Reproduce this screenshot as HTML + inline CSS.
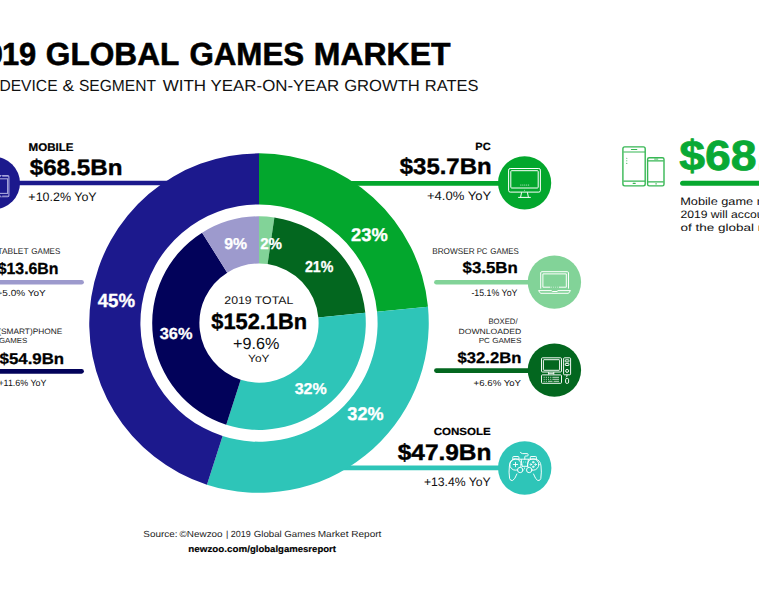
<!DOCTYPE html>
<html><head><meta charset="utf-8"><style>
html,body{margin:0;padding:0;background:#fff;}
body{width:759px;height:600px;overflow:hidden;position:relative;}
svg{position:absolute;left:0;top:0;}
text{font-family:"Liberation Sans",sans-serif;text-rendering:geometricPrecision;}
</style></head><body>
<svg width="759" height="600" viewBox="0 0 759 600">
<g id="lines">
<line x1="10" y1="182.95" x2="260" y2="182.95" stroke="#1c198d" stroke-width="4.6"/>
<line x1="260" y1="183.35" x2="520" y2="183.35" stroke="#03a72d" stroke-width="4.6"/>
<line x1="260" y1="467.95" x2="520" y2="467.95" stroke="#2ec5b8" stroke-width="4.7"/>
<line x1="-10" y1="282.25" x2="81.6" y2="282.25" stroke="#9d9acd" stroke-width="4.6" stroke-linecap="round"/>
<line x1="-10" y1="371.35" x2="81.6" y2="371.35" stroke="#02025a" stroke-width="4.6" stroke-linecap="round"/>
<line x1="436.4" y1="282.25" x2="550" y2="282.25" stroke="#82d398" stroke-width="4.6" stroke-linecap="round"/>
<line x1="436.4" y1="370.6" x2="550" y2="370.6" stroke="#03671f" stroke-width="4.6" stroke-linecap="round"/>
<line x1="682.6" y1="183.3" x2="770" y2="183.3" stroke="#07a82f" stroke-width="5" stroke-linecap="round"/>
</g>
<g id="donut">
<path d="M259.00,153.35A169.75,169.75 0 0 1 427.97,306.82L377.05,311.73A118.6,118.6 0 0 0 259.00,204.50Z" fill="#03a72d"/><path d="M427.97,306.82A169.75,169.75 0 0 1 206.91,484.66L222.61,435.98A118.6,118.6 0 0 0 377.05,311.73Z" fill="#2ec5b8"/><path d="M206.91,484.66A169.75,169.75 0 0 1 259.00,153.35L259.00,204.50A118.6,118.6 0 0 0 222.61,435.98Z" fill="#1c198d"/><path d="M259.00,216.30A106.8,106.8 0 0 1 274.39,217.41L267.59,264.12A59.6,59.6 0 0 0 259.00,263.50Z" fill="#82d398"/><path d="M274.39,217.41A106.8,106.8 0 0 1 365.31,312.86L318.33,317.38A59.6,59.6 0 0 0 267.59,264.12Z" fill="#03671f"/><path d="M365.31,312.86A106.8,106.8 0 0 1 226.23,424.75L240.71,379.82A59.6,59.6 0 0 0 318.33,317.38Z" fill="#2ec5b8"/><path d="M226.23,424.75A106.8,106.8 0 0 1 202.11,232.72L227.25,272.66A59.6,59.6 0 0 0 240.71,379.82Z" fill="#02025a"/><path d="M202.11,232.72A106.8,106.8 0 0 1 259.00,216.30L259.00,263.50A59.6,59.6 0 0 0 227.25,272.66Z" fill="#9d9acd"/>
</g>
<g id="circles">
<circle cx="-6.3" cy="183" r="26.3" fill="#1c198d"/>
<circle cx="524.6" cy="182.9" r="26.6" fill="#03a72d"/>
<circle cx="554.4" cy="282.1" r="26.7" fill="#82d398"/>
<circle cx="554.4" cy="370.1" r="26.7" fill="#03671f"/>
<circle cx="524.7" cy="468" r="26.7" fill="#2ec5b8"/>
</g>
<g id="ic_mobile" fill="none" stroke="#a9a7dc" stroke-width="1.1">
<rect x="-22" y="175.6" width="30.9" height="21.2" rx="1.2"/>
<rect x="-20" y="178.8" width="27.6" height="14.6"/>
<line x1="-22" y1="176.4" x2="8.9" y2="176.4" stroke-width="0.6"/>
<line x1="-22" y1="195.9" x2="8.9" y2="195.9" stroke-width="0.6"/>
<path d="M1,176.3h1.2M1,195.8h1.2" stroke="#1c198d" stroke-width="1.6"/>
</g>
<g id="ic_pc" fill="none" stroke="#fff" stroke-width="1" stroke-linejoin="round">
<rect x="508.6" y="168.5" width="31.8" height="23.6" rx="1.6"/>
<rect x="510.8" y="170.7" width="27.4" height="17.3" rx="0.8"/>
<path d="M521.6,192.3L520.6,197.3M527.4,192.3L528.4,197.3M518.2,197.4H530.8"/>
<g fill="#fff" stroke="none"><circle cx="520.9" cy="185.1" r="0.5"/><circle cx="522.85" cy="185.1" r="0.5"/><circle cx="524.8" cy="185.1" r="0.5"/><circle cx="526.75" cy="185.1" r="0.5"/><circle cx="528.7" cy="185.1" r="0.5"/></g>
<circle cx="524.4" cy="190.3" r="0.45" fill="#fff" stroke="none"/>
</g>
<g id="ic_laptop" fill="none" stroke="#fff" stroke-width="1" stroke-linejoin="round">
<path d="M540.7,288.6V272.9Q540.7,271.7 541.9,271.7H567.3Q568.5,271.7 568.5,272.9V288.6"/>
<path d="M550.3,287.2H542.9V273.9H566.3V287.2H558.9"/>
<path d="M551.3,287.2h0.6M553.3,287.2h0.6M555.3,287.2h0.6M557.3,287.2h0.6" stroke-width="0.9"/>
<path d="M538.5,290.6H551.3L552.3,291.5H557L558,290.6H570.5L568.5,293.3H540.5Z"/>
</g>
<g id="ic_desktop" fill="none" stroke="#fff" stroke-width="0.95" stroke-linejoin="round">
<rect x="541.5" y="357.8" width="20" height="14.2" rx="1"/>
<rect x="543.4" y="359.7" width="16.2" height="10.6" rx="0.6"/>
<path d="M548.6,372.1V374.5M553.8,372.1V374.5M548.6,373.3H553.8"/>
<rect x="541.5" y="374.9" width="20" height="8.4" rx="0.8"/>
<path d="M543.6,377.3h1.1M545.8,377.3h1.1M548,377.3h1.1M550.2,377.3h1.1M552.4,377.3h6.6M543.6,379.3h1.1M545.8,379.3h1.1M548,379.3h1.1M550.2,379.3h1.1M552.4,379.3h6.6M543.6,381.3h1.1M545.8,381.3h1.1M548,381.3h4.5M553.6,381.3h5.4" stroke-width="0.75"/>
<rect x="563.6" y="357.8" width="7" height="17" rx="0.9"/>
<rect x="565.3" y="359.8" width="3.6" height="2.1" rx="0.4"/>
<rect x="565.3" y="363.4" width="3.6" height="2.1" rx="0.4"/>
<circle cx="567.1" cy="370.9" r="1.5"/>
<path d="M567.1,374.8Q567.1,376.6 566.1,377.2"/>
<rect x="565.6" y="378.4" width="3" height="5" rx="1.3"/>
</g>
<g id="ic_console" fill="none" stroke="#fff" stroke-width="0.95" stroke-linejoin="round" stroke-linecap="round">
<path d="M520.4,452.3Q521,453.6 522.6,453.6H527.2Q528.2,453.6 528.2,454.8V455.1Q528.2,456 527.2,456H525.6Q524.8,456 524.8,456.8V459.2"/>
<path d="M512.8,459.1V457.2Q512.8,456.5 513.5,456.5H518.2Q518.9,456.5 518.9,457.2V459.1"/>
<path d="M530.3,459.1V457.2Q530.3,456.5 531,456.5H535.7Q536.4,456.5 536.4,457.2V459.1"/>
<path d="M514,459.2H536Q540.6,460.5 541,466Q541.8,472 540.8,478.5Q540,481 537.8,480.5Q535.7,479.8 533.5,474"/>
<path d="M514.4,459.2Q509.9,460.5 509.4,466Q508.6,472 509.6,478.5Q510.4,481 512.6,480.5Q514.7,479.8 516.9,474"/>
<circle cx="515.5" cy="464.5" r="5.7"/>
<circle cx="533.2" cy="464.5" r="5.7"/>
<path d="M521.2,459.5L522.2,466.3M528.4,459.5L527.4,466.3M522.3,466.3H527.4"/>
<path d="M513.3,464.5H517.7M515.5,462.3V466.7" stroke-width="0.9"/>
<path d="M523.4,462h0.01M525.4,462h0.01M524.5,467.8V468.8" stroke-width="0.7"/>
<circle cx="533.2" cy="462.2" r="0.75"/>
<circle cx="533.2" cy="466.8" r="0.75"/>
<circle cx="530.9" cy="464.5" r="0.75"/>
<circle cx="535.5" cy="464.5" r="0.75"/>
<circle cx="520.2" cy="470" r="2.7" fill="#2ec5b8"/>
<circle cx="529.2" cy="470" r="2.7" fill="#2ec5b8"/>
</g>
<g id="ic_phones" fill="none" stroke="#37b754" stroke-width="1.4" stroke-linejoin="round">
<rect x="622.9" y="146.9" width="22.3" height="39" rx="1.8"/>
<path d="M631.4,149.5H636.8" stroke-width="1.1" stroke-linecap="round"/>
<path d="M623.4,152H645M623.4,181.1H645" stroke-width="1.1"/>
<path d="M633.2,183.4H635.2" stroke-width="1.1" stroke-linecap="round"/>
<circle cx="626.8" cy="158.3" r="0.55" fill="#37b754" stroke="none"/>
<circle cx="626.8" cy="160.8" r="0.55" fill="#37b754" stroke="none"/>
<circle cx="626.8" cy="163.4" r="0.55" fill="#37b754" stroke="none"/>
<rect x="647.6" y="157.7" width="16.4" height="28.2" rx="1.6"/>
<path d="M648,160.9H663.6M648,181.9H663.6" stroke-width="1.1"/>
<path d="M654.2,159.1H658.2" stroke-width="0.9"/>
<path d="M655.3,183.9H656.9" stroke-width="1"/>
</g>

<g id="texts">
<text x="-39.67" y="64.80" font-size="31.83" font-weight="bold" fill="#000" stroke="#000" stroke-width="0.57" stroke-linejoin="round" textLength="42.86" lengthAdjust="spacingAndGlyphs">20</text>
<text x="1.88" y="64.80" font-size="31.83" font-weight="bold" fill="#000" stroke="#000" stroke-width="0.57" stroke-linejoin="round" textLength="34.36" lengthAdjust="spacingAndGlyphs">19</text>
<text x="45.80" y="64.90" font-size="31.98" font-weight="bold" fill="#000" stroke="#000" stroke-width="0.58" stroke-linejoin="round" textLength="133.54" lengthAdjust="spacingAndGlyphs">GLOBAL</text>
<text x="189.40" y="64.90" font-size="31.98" font-weight="bold" fill="#000" stroke="#000" stroke-width="0.58" stroke-linejoin="round" textLength="114.77" lengthAdjust="spacingAndGlyphs">GAMES</text>
<text x="313.82" y="64.90" font-size="31.98" font-weight="bold" fill="#000" stroke="#000" stroke-width="0.58" stroke-linejoin="round" textLength="136.74" lengthAdjust="spacingAndGlyphs">MARKET</text>
<text x="-0.57" y="91.00" font-size="15.99" font-weight="normal" fill="#111" textLength="58.10" lengthAdjust="spacingAndGlyphs">DEVICE</text>
<text x="62.52" y="91.00" font-size="15.99" font-weight="normal" fill="#111" textLength="11.68" lengthAdjust="spacingAndGlyphs">&amp;</text>
<text x="78.95" y="91.00" font-size="15.99" font-weight="normal" fill="#111" textLength="77.05" lengthAdjust="spacingAndGlyphs">SEGMENT</text>
<text x="162.70" y="91.00" font-size="15.99" font-weight="normal" fill="#111" textLength="43.42" lengthAdjust="spacingAndGlyphs">WITH</text>
<text x="210.51" y="91.00" font-size="15.99" font-weight="normal" fill="#111" textLength="128.62" lengthAdjust="spacingAndGlyphs">YEAR-ON-YEAR</text>
<text x="344.19" y="91.00" font-size="15.99" font-weight="normal" fill="#111" textLength="75.65" lengthAdjust="spacingAndGlyphs">GROWTH</text>
<text x="424.79" y="91.00" font-size="15.99" font-weight="normal" fill="#111" textLength="53.69" lengthAdjust="spacingAndGlyphs">RATES</text>
<text x="28.63" y="150.70" font-size="11.19" font-weight="bold" fill="#000" stroke="#000" stroke-width="0.20" stroke-linejoin="round" textLength="44.94" lengthAdjust="spacingAndGlyphs">MOBILE</text>
<text x="29.73" y="174.80" font-size="22.09" font-weight="bold" fill="#000" stroke="#000" stroke-width="0.40" stroke-linejoin="round" textLength="92.70" lengthAdjust="spacingAndGlyphs">$68.5Bn</text>
<text x="28.37" y="200.80" font-size="12.21" font-weight="normal" fill="#111" textLength="68.32" lengthAdjust="spacingAndGlyphs">+10.2% YoY</text>
<text x="-2.52" y="253.80" font-size="8.43" font-weight="normal" fill="#222" textLength="31.04" lengthAdjust="spacingAndGlyphs">TABLET</text>
<text x="31.36" y="253.80" font-size="8.43" font-weight="normal" fill="#222" textLength="28.94" lengthAdjust="spacingAndGlyphs">GAMES</text>
<text x="-2.29" y="274.20" font-size="16.13" font-weight="bold" fill="#000" stroke="#000" stroke-width="0.29" stroke-linejoin="round" textLength="60.77" lengthAdjust="spacingAndGlyphs">$13.6Bn</text>
<text x="-3.47" y="296.40" font-size="8.87" font-weight="normal" fill="#111" textLength="49.19" lengthAdjust="spacingAndGlyphs">+5.0% YoY</text>
<text x="-1.81" y="333.60" font-size="7.85" font-weight="normal" fill="#222" textLength="64.07" lengthAdjust="spacingAndGlyphs">(SMART)PHONE</text>
<text x="-1.13" y="342.60" font-size="7.41" font-weight="normal" fill="#222" textLength="28.36" lengthAdjust="spacingAndGlyphs">GAMES</text>
<text x="-0.44" y="363.50" font-size="15.55" font-weight="bold" fill="#000" stroke="#000" stroke-width="0.28" stroke-linejoin="round" textLength="64.54" lengthAdjust="spacingAndGlyphs">$54.9Bn</text>
<text x="-1.59" y="385.50" font-size="9.01" font-weight="normal" fill="#111" textLength="48.01" lengthAdjust="spacingAndGlyphs">+11.6% YoY</text>
<text x="475.35" y="150.30" font-size="10.47" font-weight="bold" fill="#000" stroke="#000" stroke-width="0.19" stroke-linejoin="round" textLength="15.34" lengthAdjust="spacingAndGlyphs">PC</text>
<text x="399.79" y="173.90" font-size="22.67" font-weight="bold" fill="#000" stroke="#000" stroke-width="0.41" stroke-linejoin="round" textLength="91.78" lengthAdjust="spacingAndGlyphs">$35.7Bn</text>
<text x="426.92" y="199.60" font-size="12.35" font-weight="normal" fill="#111" textLength="64.27" lengthAdjust="spacingAndGlyphs">+4.0% YoY</text>
<text x="432.21" y="253.90" font-size="8.43" font-weight="normal" fill="#222" textLength="42.37" lengthAdjust="spacingAndGlyphs">BROWSER</text>
<text x="476.63" y="253.90" font-size="8.43" font-weight="normal" fill="#222" textLength="10.73" lengthAdjust="spacingAndGlyphs">PC</text>
<text x="490.26" y="253.90" font-size="8.43" font-weight="normal" fill="#222" textLength="28.47" lengthAdjust="spacingAndGlyphs">GAMES</text>
<text x="462.58" y="273.40" font-size="15.84" font-weight="bold" fill="#000" stroke="#000" stroke-width="0.29" stroke-linejoin="round" textLength="55.08" lengthAdjust="spacingAndGlyphs">$3.5Bn</text>
<text x="471.40" y="295.80" font-size="9.59" font-weight="normal" fill="#111" textLength="46.04" lengthAdjust="spacingAndGlyphs">-15.1% YoY</text>
<text x="488.43" y="324.00" font-size="7.85" font-weight="normal" fill="#222" textLength="29.11" lengthAdjust="spacingAndGlyphs">BOXED/</text>
<text x="458.48" y="333.80" font-size="7.56" font-weight="normal" fill="#222" textLength="62.89" lengthAdjust="spacingAndGlyphs">DOWNLOADED</text>
<text x="478.71" y="342.60" font-size="7.41" font-weight="normal" fill="#222" textLength="42.62" lengthAdjust="spacingAndGlyphs">PC GAMES</text>
<text x="457.64" y="363.20" font-size="15.41" font-weight="bold" fill="#000" stroke="#000" stroke-width="0.28" stroke-linejoin="round" textLength="63.75" lengthAdjust="spacingAndGlyphs">$32.2Bn</text>
<text x="473.63" y="385.80" font-size="8.72" font-weight="normal" fill="#111" textLength="47.42" lengthAdjust="spacingAndGlyphs">+6.6% YoY</text>
<text x="433.66" y="435.00" font-size="10.32" font-weight="bold" fill="#000" stroke="#000" stroke-width="0.19" stroke-linejoin="round" textLength="57.06" lengthAdjust="spacingAndGlyphs">CONSOLE</text>
<text x="397.74" y="459.60" font-size="22.67" font-weight="bold" fill="#000" stroke="#000" stroke-width="0.41" stroke-linejoin="round" textLength="93.71" lengthAdjust="spacingAndGlyphs">$47.9Bn</text>
<text x="423.89" y="485.60" font-size="12.21" font-weight="normal" fill="#111" textLength="66.84" lengthAdjust="spacingAndGlyphs">+13.4% YoY</text>
<text x="224.34" y="304.20" font-size="11.05" font-weight="normal" fill="#111" textLength="68.96" lengthAdjust="spacingAndGlyphs">2019 TOTAL</text>
<text x="211.29" y="328.60" font-size="22.09" font-weight="bold" fill="#000" stroke="#000" stroke-width="0.40" stroke-linejoin="round" textLength="95.81" lengthAdjust="spacingAndGlyphs">$152.1Bn</text>
<text x="233.13" y="348.60" font-size="16.13" font-weight="normal" fill="#111" textLength="46.38" lengthAdjust="spacingAndGlyphs">+9.6%</text>
<text x="248.13" y="361.70" font-size="10.61" font-weight="normal" fill="#111" textLength="21.38" lengthAdjust="spacingAndGlyphs">YoY</text>
<text x="97.69" y="307.00" font-size="19.04" font-weight="bold" fill="#fff" stroke="#fff" stroke-width="0.34" stroke-linejoin="round" textLength="37.34" lengthAdjust="spacingAndGlyphs">45%</text>
<text x="351.03" y="241.00" font-size="18.46" font-weight="bold" fill="#fff" stroke="#fff" stroke-width="0.33" stroke-linejoin="round" textLength="36.67" lengthAdjust="spacingAndGlyphs">23%</text>
<text x="347.35" y="419.50" font-size="18.31" font-weight="bold" fill="#fff" stroke="#fff" stroke-width="0.33" stroke-linejoin="round" textLength="36.18" lengthAdjust="spacingAndGlyphs">32%</text>
<text x="159.78" y="339.10" font-size="15.99" font-weight="bold" fill="#fff" stroke="#fff" stroke-width="0.29" stroke-linejoin="round" textLength="32.69" lengthAdjust="spacingAndGlyphs">36%</text>
<text x="294.68" y="393.90" font-size="15.70" font-weight="bold" fill="#fff" stroke="#fff" stroke-width="0.28" stroke-linejoin="round" textLength="32.04" lengthAdjust="spacingAndGlyphs">32%</text>
<text x="224.32" y="249.10" font-size="15.70" font-weight="bold" fill="#fff" stroke="#fff" stroke-width="0.28" stroke-linejoin="round" textLength="22.88" lengthAdjust="spacingAndGlyphs">9%</text>
<text x="260.20" y="249.10" font-size="15.70" font-weight="bold" fill="#fff" stroke="#fff" stroke-width="0.28" stroke-linejoin="round" textLength="21.84" lengthAdjust="spacingAndGlyphs">2%</text>
<text x="304.93" y="271.60" font-size="15.84" font-weight="bold" fill="#fff" stroke="#fff" stroke-width="0.29" stroke-linejoin="round" textLength="28.44" lengthAdjust="spacingAndGlyphs">21%</text>
<text x="679.18" y="169.50" font-size="42.15" font-weight="bold" fill="#09a935" stroke="#09a935" stroke-width="0.76" stroke-linejoin="round" textLength="177.99" lengthAdjust="spacingAndGlyphs">$68.5Bn</text>
<text x="680.19" y="204.90" font-size="10.76" font-weight="normal" fill="#111" textLength="142.43" lengthAdjust="spacingAndGlyphs">Mobile game revenues in</text>
<text x="680.44" y="217.90" font-size="10.76" font-weight="normal" fill="#111" textLength="138.38" lengthAdjust="spacingAndGlyphs">2019 will account for 45%</text>
<text x="680.47" y="231.20" font-size="10.21" font-weight="normal" fill="#111" textLength="118.37" lengthAdjust="spacingAndGlyphs">of the global market</text>
<text x="143.31" y="537.00" font-size="8.87" font-weight="normal" fill="#222" textLength="34.12" lengthAdjust="spacingAndGlyphs">Source:</text>
<text x="179.54" y="537.00" font-size="8.87" font-weight="normal" fill="#222" textLength="43.08" lengthAdjust="spacingAndGlyphs">©Newzoo</text>
<text x="226.00" y="537.00" font-size="8.87" font-weight="normal" fill="#222" textLength="24.83" lengthAdjust="spacingAndGlyphs">| 2019</text>
<text x="253.74" y="537.00" font-size="8.87" font-weight="normal" fill="#222" textLength="61.77" lengthAdjust="spacingAndGlyphs">Global Games</text>
<text x="317.71" y="537.00" font-size="8.87" font-weight="normal" fill="#222" textLength="63.71" lengthAdjust="spacingAndGlyphs">Market Report</text>
<text x="188.39" y="551.60" font-size="9.10" font-weight="bold" fill="#000" stroke="#000" stroke-width="0.16" stroke-linejoin="round" textLength="61.55" lengthAdjust="spacingAndGlyphs">newzoo.com/</text>
<text x="249.90" y="551.60" font-size="9.10" font-weight="bold" fill="#000" stroke="#000" stroke-width="0.16" stroke-linejoin="round" textLength="86.09" lengthAdjust="spacingAndGlyphs">globalgamesreport</text>
</g>
</svg>
</body></html>
